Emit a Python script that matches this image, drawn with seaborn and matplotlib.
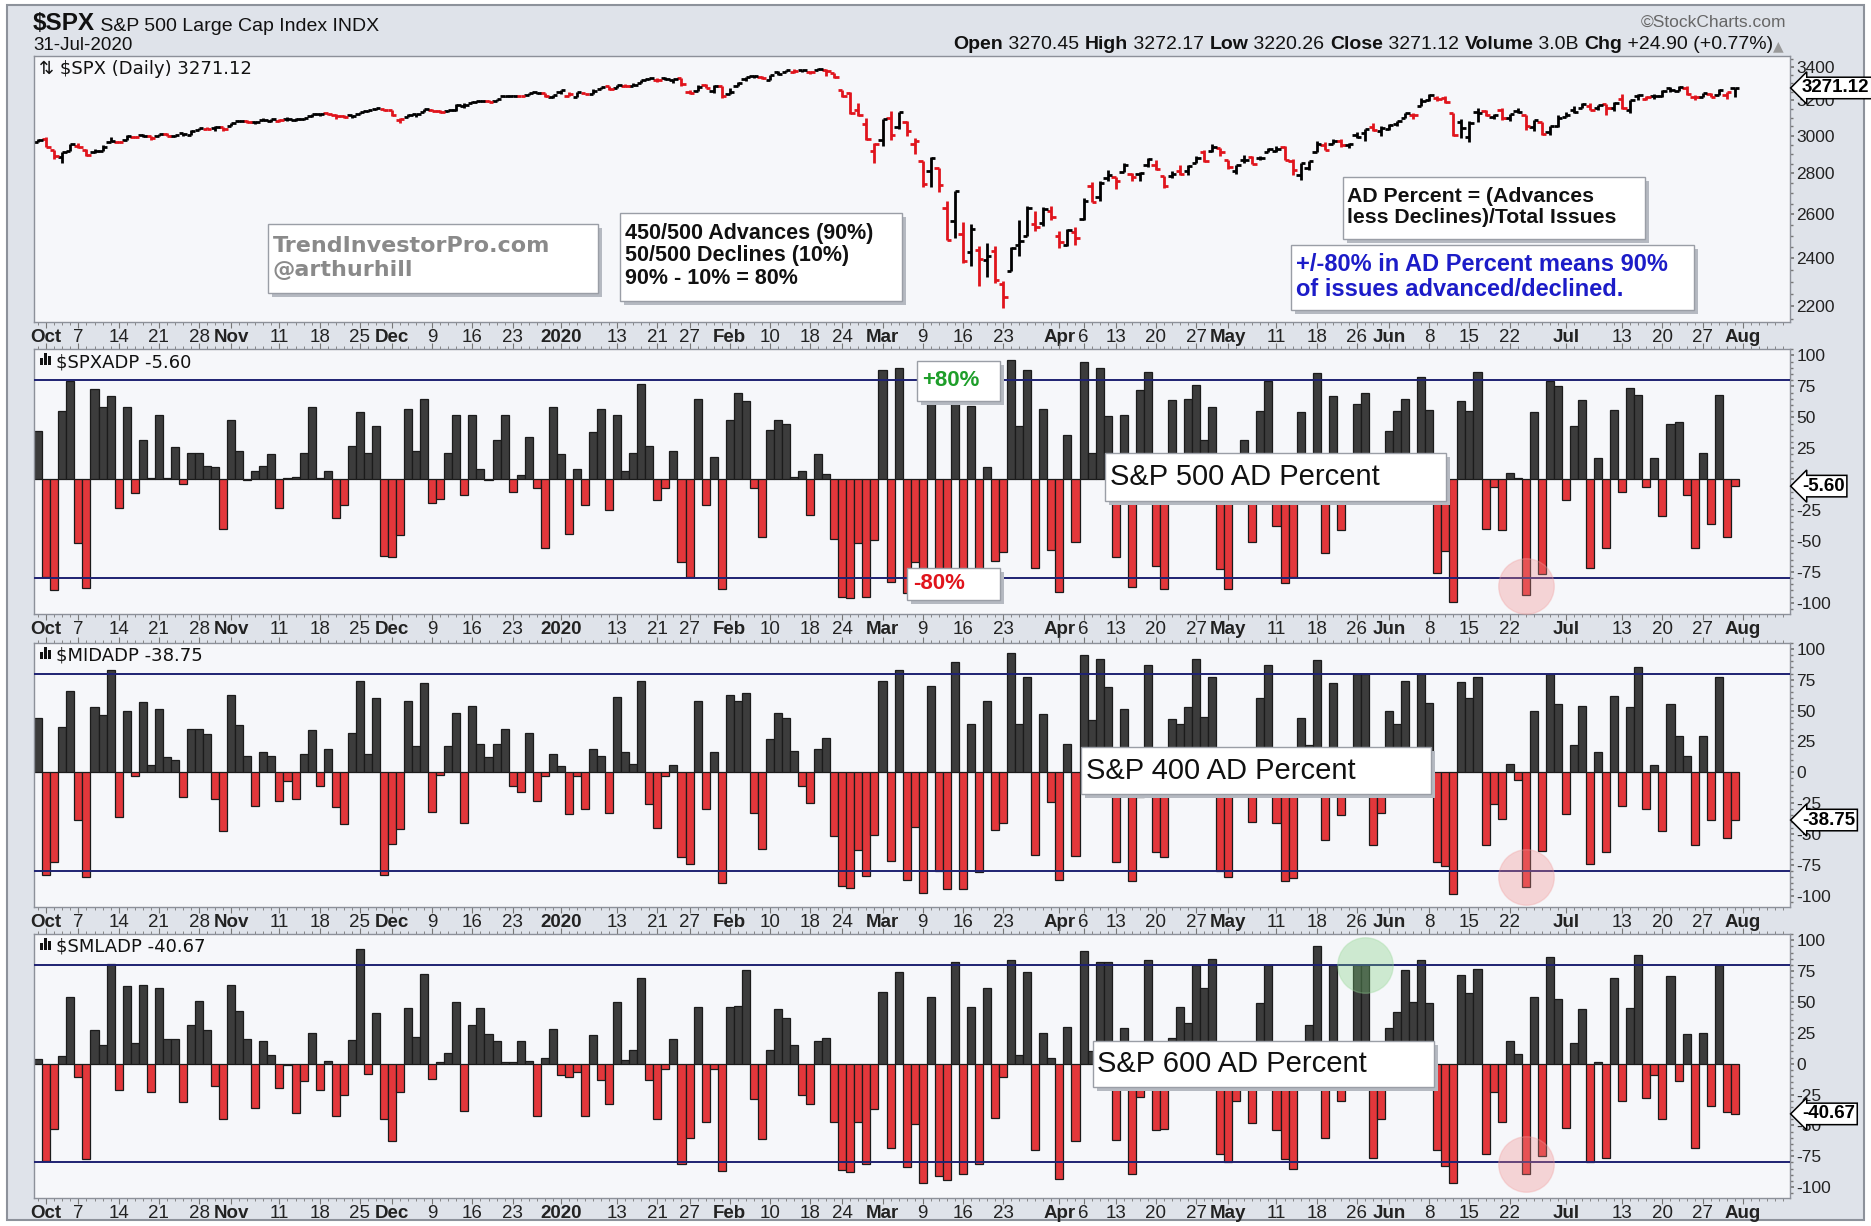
import matplotlib

matplotlib.use("Agg")
import matplotlib.pyplot as plt
import numpy as np
import pandas as pd
import seaborn as sns
from matplotlib import ticker
from matplotlib.patches import Rectangle

FIG_W, FIG_H = 1871, 1226

# trading days 30-Sep-2019 .. 31-Jul-2020
HOLIDAYS = ["2019-11-28", "2019-12-25", "2020-01-01", "2020-01-20",
            "2020-02-17", "2020-04-10", "2020-05-25", "2020-07-03"]
_bdays = pd.bdate_range("2019-09-30", "2020-07-31")
DATES = _bdays[~_bdays.isin(pd.to_datetime(HOLIDAYS))]

PRIOR_CLOSE = 2961.79
SPX_OPEN = [
    2967, 2983, 2924, 2885, 2918, 2945, 2920, 2912, 2919, 2964,
    2966, 2974, 2990, 3001, 2996, 2996, 3011, 2995, 3014, 3004,
    3032, 3036, 3039, 3046, 3050, 3079, 3080, 3076, 3087, 3082,
    3081, 3089, 3084, 3090, 3108, 3118, 3127, 3114, 3109, 3112,
    3118, 3135, 3146, 3148, 3143, 3087, 3104, 3120, 3134, 3141,
    3135, 3136, 3141, 3166, 3183, 3195, 3195, 3193, 3224, 3226,
    3225, 3227, 3247, 3240, 3215, 3245, 3226, 3218, 3241, 3238,
    3267, 3281, 3271, 3285, 3283, 3302, 3323, 3321, 3331, 3316,
    3334, 3248, 3256, 3290, 3256, 3282, 3235, 3280, 3324, 3344,
    3335, 3318, 3366, 3370, 3365, 3378, 3370, 3380, 3380, 3360,
    3258, 3239, 3140, 3063, 2917, 2974, 3096, 3046, 3076, 2954,
    2864, 2813, 2826, 2631, 2570, 2509, 2426, 2437, 2393, 2432,
    2291, 2344, 2458, 2501, 2556, 2559, 2615, 2498, 2459, 2515,
    2578, 2739, 2685, 2777, 2782, 2805, 2796, 2799, 2842, 2846,
    2785, 2788, 2810, 2813, 2855, 2910, 2918, 2931, 2869, 2815,
    2868, 2883, 2879, 2909, 2915, 2939, 2865, 2794, 2829, 2913,
    2949, 2954, 2969, 2949, 3004, 3016, 3046, 3025, 3038, 3064,
    3098, 3112, 3163, 3199, 3213, 3213, 3123, 3072, 2993, 3132,
    3137, 3101, 3140, 3095, 3138, 3114, 3047, 3074, 3018, 3050,
    3105, 3144, 3155, 3166, 3154, 3177, 3153, 3206, 3141, 3225,
    3209, 3224, 3224, 3268, 3255, 3271, 3219, 3219, 3234, 3227,
    3232, 3270.45,
]
SPX_HIGH = [
    2983, 2993, 2924, 2911, 2953, 2959, 2925, 2929, 2948, 2993,
    2972, 3003, 2997, 3008, 3000, 3007, 3015, 3005, 3016, 3028,
    3044, 3047, 3050, 3046, 3067, 3085, 3084, 3079, 3098, 3094,
    3089, 3103, 3098, 3098, 3120, 3124, 3128, 3118, 3112, 3112,
    3134, 3142, 3154, 3151, 3144, 3095, 3120, 3120, 3150, 3148,
    3143, 3143, 3176, 3182, 3197, 3198, 3199, 3206, 3226, 3227,
    3226, 3240, 3248, 3240, 3231, 3258, 3246, 3247, 3244, 3267,
    3276, 3283, 3288, 3294, 3299, 3317, 3330, 3330, 3337, 3326,
    3334, 3259, 3286, 3293, 3286, 3282, 3268, 3306, 3337, 3347,
    3342, 3352, 3375, 3381, 3385, 3381, 3375, 3393, 3389, 3360,
    3260, 3247, 3183, 3097, 2960, 3091, 3137, 3131, 3083, 2986,
    2864, 2883, 2826, 2661, 2711, 2563, 2554, 2454, 2467, 2453,
    2301, 2450, 2571, 2637, 2616, 2632, 2641, 2523, 2533, 2538,
    2677, 2757, 2761, 2819, 2782, 2852, 2802, 2807, 2879, 2869,
    2786, 2815, 2845, 2843, 2888, 2921, 2955, 2931, 2869, 2844,
    2898, 2891, 2892, 2933, 2945, 2945, 2875, 2852, 2865, 2968,
    2965, 2981, 2979, 2957, 3021, 3036, 3068, 3050, 3063, 3081,
    3124, 3128, 3211, 3233, 3223, 3223, 3123, 3089, 3079, 3153,
    3141, 3120, 3155, 3121, 3155, 3115, 3084, 3074, 3054, 3112,
    3129, 3165, 3183, 3184, 3171, 3180, 3186, 3236, 3200, 3238,
    3221, 3233, 3259, 3278, 3280, 3280, 3227, 3241, 3244, 3264,
    3250, 3272.17,
]
SPX_LOW = [
    2967, 2938, 2874, 2856, 2918, 2935, 2892, 2907, 2917, 2963,
    2962, 2974, 2986, 2992, 2977, 2995, 2995, 2991, 3000, 3001,
    3032, 3035, 3026, 3024, 3050, 3074, 3069, 3065, 3080, 3073,
    3077, 3079, 3079, 3084, 3104, 3109, 3113, 3091, 3097, 3099,
    3118, 3131, 3143, 3139, 3111, 3070, 3102, 3103, 3134, 3135,
    3126, 3133, 3138, 3156, 3183, 3191, 3191, 3193, 3217, 3222,
    3221, 3227, 3234, 3216, 3213, 3236, 3222, 3215, 3233, 3236,
    3264, 3260, 3268, 3278, 3281, 3302, 3318, 3307, 3321, 3302,
    3281, 3234, 3254, 3272, 3243, 3214, 3235, 3280, 3313, 3334,
    3323, 3317, 3352, 3369, 3361, 3369, 3356, 3379, 3341, 3328,
    3215, 3119, 3109, 2977, 2856, 2945, 2977, 3034, 3000, 2902,
    2734, 2734, 2707, 2479, 2492, 2381, 2367, 2281, 2320, 2296,
    2192, 2344, 2408, 2501, 2520, 2545, 2571, 2447, 2456, 2460,
    2575, 2658, 2663, 2762, 2721, 2805, 2762, 2764, 2831, 2820,
    2727, 2776, 2794, 2792, 2853, 2861, 2912, 2892, 2822, 2798,
    2853, 2847, 2870, 2909, 2914, 2869, 2794, 2767, 2816, 2913,
    2922, 2954, 2939, 2933, 2988, 2970, 3024, 2999, 3032, 3052,
    3098, 3090, 3163, 3196, 3194, 3181, 2999, 2984, 2965, 3076,
    3109, 3093, 3084, 3082, 3128, 3033, 3025, 3005, 3002, 3048,
    3101, 3124, 3155, 3143, 3142, 3116, 3136, 3150, 3127, 3201,
    3199, 3206, 3215, 3248, 3253, 3228, 3201, 3219, 3216, 3227,
    3205, 3220.26,
]
SPX_CLOSE = [
    2977, 2940, 2888, 2911, 2952, 2939, 2893, 2919, 2938, 2970,
    2966, 2996, 2990, 2998, 2986, 3007, 2996, 3005, 3010, 3023,
    3039, 3037, 3047, 3038, 3067, 3078, 3075, 3077, 3085, 3093,
    3087, 3092, 3094, 3097, 3120, 3122, 3120, 3108, 3104, 3110,
    3134, 3141, 3154, 3141, 3114, 3093, 3113, 3117, 3146, 3136,
    3133, 3142, 3169, 3169, 3191, 3193, 3191, 3205, 3221, 3224,
    3223, 3240, 3240, 3221, 3231, 3258, 3235, 3246, 3237, 3253,
    3275, 3265, 3288, 3283, 3289, 3317, 3330, 3321, 3322, 3326,
    3295, 3244, 3276, 3273, 3284, 3226, 3249, 3298, 3335, 3346,
    3328, 3352, 3358, 3379, 3374, 3380, 3370, 3386, 3373, 3338,
    3226, 3128, 3116, 2979, 2954, 3090, 3003, 3130, 3024, 2972,
    2747, 2882, 2741, 2481, 2711, 2386, 2529, 2398, 2409, 2305,
    2237, 2447, 2476, 2630, 2541, 2627, 2585, 2471, 2527, 2489,
    2664, 2659, 2750, 2790, 2762, 2846, 2783, 2800, 2875, 2823,
    2737, 2799, 2798, 2837, 2878, 2863, 2940, 2912, 2831, 2843,
    2868, 2848, 2881, 2930, 2930, 2870, 2820, 2853, 2864, 2954,
    2923, 2972, 2949, 2955, 2992, 3036, 3030, 3044, 3056, 3081,
    3123, 3112, 3194, 3232, 3207, 3190, 3002, 3041, 3067, 3125,
    3113, 3115, 3098, 3118, 3131, 3050, 3084, 3009, 3053, 3100,
    3116, 3130, 3180, 3145, 3170, 3152, 3185, 3155, 3198, 3227,
    3216, 3225, 3252, 3257, 3276, 3236, 3216, 3239, 3218, 3258,
    3246, 3271.12,
]

SPX_ADP = [
    39, -79, -90, 55, 79, -52, -88, 73, 58, 67,
    -23, 58, -11, 32, 1, 52, 1, 26, -4, 21,
    21, 11, 10, -40, 48, 23, -1, 7, 11, 20,
    -23, 1, 2, 21, 58, 1, 7, -31, -21, 27,
    54, 21, 43, -62, -63, -45, 57, 23, 65, -19,
    -16, 21, 52, -13, 52, 8, -1, 32, 52, -10,
    3, 34, -7, -56, 58, 20, -44, 8, -21, 38,
    57, -25, 52, 7, 21, 77, 27, -17, -7, 23,
    -67, -79, 65, -21, 18, -89, 48, 70, 63, -7,
    -47, 40, 48, 45, 2, 7, -29, 20, 4, -48,
    -95, -96, -52, -95, -49, 88, -83, 90, -92, -67,
    -95, 68, -88, -97, 63, -96, 59, -85, 10, -66,
    -59, 96, 43, 88, -72, 57, -57, -91, 36, -51,
    95, 21, 90, 51, -63, 52, -87, 72, 87, -70,
    -89, 64, 8, 65, 76, 32, 58, -73, -89, 5,
    32, -51, 55, 79, -38, -84, -79, 54, 12, 86,
    -60, 67, -41, 6, 61, 70, -12, 10, 39, 55,
    65, 12, 83, 56, -76, -58, -99, 63, 55, 87,
    -40, -6, -41, 5, 1, -94, 54, -77, 79, 75,
    -17, 43, 64, -72, 17, -56, 56, -10, 74, 68,
    -6, 17, -30, 45, 46, -13, -56, 21, -36, 68,
    -47, -5.60,
]
MID_ADP = [
    44, -83, -73, 37, 66, -39, -85, 53, 46, 83,
    -36, 50, -3, 57, 6, 51, 12, 10, -20, 35,
    35, 31, -22, -48, 63, 38, 13, -27, 16, 13,
    -23, -7, -22, 15, 34, -11, 19, -28, -42, 32,
    74, 15, 60, -83, -58, -46, 58, 21, 72, -32,
    -2, 21, 48, -41, 54, 23, 12, 23, 35, -11,
    -16, 32, -23, -3, 15, 5, -34, -3, -30, 19,
    13, -33, 61, 16, 7, 74, -26, -45, -3, 6,
    -69, -74, 58, -30, 16, -90, 63, 58, 64, -33,
    -62, 27, 48, 44, 17, -11, -25, 19, 28, -52,
    -92, -94, -63, -84, -51, 74, -72, 83, -87, -44,
    -98, 70, -80, -95, 89, -95, 39, -81, 58, -47,
    -41, 97, 39, 77, -67, 47, -24, -87, 23, -68,
    95, 42, 92, 69, -73, 51, -88, -20, 87, -65,
    -69, 43, 39, 53, 92, 45, 77, -80, -85, 10,
    8, -40, 60, 87, -41, -88, -86, 44, 22, 91,
    -55, 72, -35, 5, 80, 80, -59, -33, 50, 39,
    74, -10, 80, 56, -73, -76, -99, 73, 60, 77,
    -59, -26, -38, 7, -6, -93, 50, -64, 80, 55,
    -34, 22, 54, -74, 16, -65, 62, -27, 53, 85,
    -30, 6, -48, 55, 29, 13, -59, 29, -39, 77,
    -53, -38.75,
]
SML_ADP = [
    4, -79, -53, 6, 54, -11, -77, 27, 15, 81,
    -21, 63, 17, 64, -23, 61, 20, 20, -31, 31,
    51, 27, -18, -45, 64, 43, 20, -36, 18, 7,
    -20, -1, -40, -14, 25, -21, 2, -42, -25, 19,
    93, -8, 41, -45, -63, -23, 45, 22, 73, -12,
    1, 9, 50, -38, 31, 45, 24, 18, 1, 1,
    18, 2, -42, 5, 28, -9, -11, -7, -42, 23,
    -13, -33, 50, 3, 11, 69, -13, -45, -4, 20,
    -81, -60, 46, -47, -4, -87, 46, 47, 76, -29,
    -61, 11, 44, 37, 15, -25, -33, 18, 21, -47,
    -86, -88, -47, -81, -37, 58, -68, 74, -84, -49,
    -97, 54, -91, -94, 82, -89, 46, -81, 61, -44,
    -11, 84, 7, 74, -70, 25, 5, -93, 30, -63,
    91, 10, 82, 82, -62, 29, -89, -27, 84, -54,
    -53, 21, 46, 33, 80, 61, 85, -73, -80, -30,
    10, -48, 49, 80, -54, -77, -85, 12, 31, 95,
    -60, 80, -30, 5, 80, 80, -76, -45, 29, 42,
    76, 50, 84, 49, -70, -83, -97, 72, 57, 77,
    -73, -23, -47, 18, 8, -89, 54, -75, 86, 52,
    -52, 17, 44, -80, 1, -76, 69, -30, 45, 88,
    -28, -9, -45, 71, -14, 24, -68, 25, -34, 80,
    -39, -40.67,
]

TICK_DATES = [
    "2019-10-01", "2019-10-07", "2019-10-14", "2019-10-21", "2019-10-28",
    "2019-11-01", "2019-11-11", "2019-11-18", "2019-11-25", "2019-12-02",
    "2019-12-09", "2019-12-16", "2019-12-23", "2020-01-02", "2020-01-13",
    "2020-01-21", "2020-01-27", "2020-02-03", "2020-02-10", "2020-02-18",
    "2020-02-24", "2020-03-02", "2020-03-09", "2020-03-16", "2020-03-23",
    "2020-04-01", "2020-04-06", "2020-04-13", "2020-04-20", "2020-04-27",
    "2020-05-01", "2020-05-11", "2020-05-18", "2020-05-26", "2020-06-01",
    "2020-06-08", "2020-06-15", "2020-06-22", "2020-07-01", "2020-07-13",
    "2020-07-20", "2020-07-27", "2020-08-03",
]
TICK_TEXT = [
    "Oct", "7", "14", "21", "28", "Nov", "11", "18", "25", "Dec",
    "9", "16", "23", "2020", "13", "21", "27", "Feb", "10", "18",
    "24", "Mar", "9", "16", "23", "Apr", "6", "13", "20", "27",
    "May", "11", "18", "26", "Jun", "8", "15", "22", "Jul", "13",
    "20", "27", "Aug",
]
MONTH_TEXT = ["Oct", "Nov", "Dec", "2020", "Feb", "Mar", "Apr", "May", "Jun", "Jul", "Aug"]
PRICE_TICKS = [2200, 2400, 2600, 2800, 3000, 3200, 3400]
AD_TICKS = [-100, -75, -50, -25, 0, 25, 50, 75, 100]
BREADTH_LINES = [80, -80]
PANELS = [("$SPXADP", SPX_ADP, "S&P 500 AD Percent"),
          ("$MIDADP", MID_ADP, "S&P 400 AD Percent"),
          ("$SMLADP", SML_ADP, "S&P 600 AD Percent")]
CIRCLE_DATE = "2020-06-24"
GREEN_DATE = "2020-05-27"

BG = "#dfe3ea"
PLOT_BG = "#f6f7fa"
UP_BAR = "#3c3c3c"
DOWN_BAR = "#e3373b"
LINE_80 = "#1f2272"


def fx(px):
    return px / FIG_W


def fy(py):
    return 1 - py / FIG_H


def setup_axis(ax, tick_pos, top_ticks):
    ax.set_facecolor(PLOT_BG)
    for s in ax.spines.values():
        s.set_color("#8c9099")
        s.set_linewidth(1.0)
    ax.set_xlim(-0.5, 217.8)
    ax.xaxis.set_major_locator(ticker.FixedLocator(tick_pos))
    ax.xaxis.set_major_formatter(ticker.FixedFormatter(TICK_TEXT))
    ax.xaxis.set_minor_locator(ticker.MultipleLocator(1))
    ax.tick_params(axis="x", which="both", direction="out", colors="#777777",
                   labelcolor="#222222", top=top_ticks, bottom=True)
    ax.tick_params(axis="x", which="major", length=4, width=0.8, labelsize=13.5, pad=1)
    ax.tick_params(axis="x", which="minor", length=2.5, width=0.6)
    for lab in ax.get_xticklabels():
        if lab.get_text() in MONTH_TEXT:
            lab.set_fontweight("bold")
    ax.yaxis.tick_right()
    ax.tick_params(axis="y", which="both", direction="out", colors="#777777",
                   labelcolor="#222222", labelsize=12.5, left=False, right=True)
    ax.tick_params(axis="y", which="major", length=3, pad=2)
    ax.tick_params(axis="y", which="minor", length=2)
    ax.set_xlabel("")
    ax.set_ylabel("")


def y_labels(ax, ticks, tag_value, min_gap_px=9):
    """Right-hand tick labels; the one hidden under the value tag is left blank."""
    tag_px = ax.transData.transform((0, tag_value))[1]

    def fmt(v, _):
        gap = abs(ax.transData.transform((0, v))[1] - tag_px)
        return "" if gap < min_gap_px else f"{v:.0f}"

    ax.yaxis.set_major_locator(ticker.FixedLocator(ticks))
    ax.yaxis.set_major_formatter(ticker.FuncFormatter(fmt))


def legend_label(ax, text, bar_icon):
    if bar_icon:
        for k, h in enumerate([7, 12, 9]):
            ax.add_patch(Rectangle(((40 + 4 * k - 34.2) / 1755.3, 1 - 16 / 264), 2.6 / 1755.3, h / 264,
                                   transform=ax.transAxes, fc="#111111", ec="none", zorder=6))
        xpos = 0.0125
    else:
        xpos = 0.003
    ax.text(xpos, 0.985, text, transform=ax.transAxes, ha="left", va="top", fontsize=13,
            family="DejaVu Sans", color="#111111", zorder=6)


def boxed_note(fig, box, text_xy, text, shadow=True, **kw):
    x0, y0, x1, y1 = box
    if shadow:
        fig.add_artist(Rectangle((fx(x0 + 4), fy(y1 + 4)), fx(x1 - x0), (y1 - y0) / FIG_H,
                                 transform=fig.transFigure, fc="#b5b9c1", ec="none", zorder=5))
    fig.add_artist(Rectangle((fx(x0), fy(y1)), fx(x1 - x0), (y1 - y0) / FIG_H,
                             transform=fig.transFigure, fc="white", ec="#9a9ea6", lw=1.0, zorder=6))
    fig.text(fx(text_xy[0]), fy(text_xy[1]), text, ha="left", va="center", zorder=7, **kw)


def value_tag(ax, value, text):
    ax.annotate(text, xy=(1, value), xycoords=ax.get_yaxis_transform(),
                xytext=(9, 0), textcoords="offset points", ha="left", va="center",
                fontsize=13.5, fontweight="bold", color="black", annotation_clip=False,
                zorder=10,
                bbox=dict(boxstyle="larrow,pad=0.12", fc="white", ec="black", lw=1.1))


def main():
    sns.set_theme(style="ticks")
    plt.rcParams["font.family"] = ["Liberation Sans", "DejaVu Sans"]

    fig = plt.figure(figsize=(FIG_W / 100, FIG_H / 100), dpi=100)
    fig.patch.set_facecolor("white")
    fig.add_artist(Rectangle((fx(7), fy(1220)), fx(1857), 1215 / FIG_H, transform=fig.transFigure,
                             fc=BG, ec="#8d929b", lw=1.5, zorder=-10))

    rows = [(56, 322), (349.3, 614), (642.7, 906.7), (934, 1198.3)]
    left, right = fx(34.2), fx(1789.5)
    axes = [fig.add_axes([left, fy(b), right - left, (b - t) / FIG_H]) for t, b in rows]

    x = np.arange(len(DATES))
    tick_pos = DATES.searchsorted(pd.to_datetime(TICK_DATES))

    # ---- price panel (OHLC bars) ----
    ax = axes[0]
    close = np.asarray(SPX_CLOSE, dtype=float)
    prev = np.r_[PRIOR_CLOSE, close[:-1]]
    colors = np.where(close >= prev, "#000000", "#e0141c")
    ax.vlines(x, SPX_LOW, SPX_HIGH, colors=colors, lw=2.0)
    ax.hlines(SPX_OPEN, x - 0.55, x, colors=colors, lw=2.0)
    ax.hlines(SPX_CLOSE, x, x + 0.55, colors=colors, lw=2.0)
    ax.set_yscale("log")
    ax.set_ylim(2137, 3467)
    setup_axis(ax, tick_pos, top_ticks=False)
    y_labels(ax, PRICE_TICKS, close[-1])
    ax.yaxis.set_minor_locator(ticker.MultipleLocator(50))
    ax.yaxis.set_minor_formatter(ticker.NullFormatter())
    legend_label(ax, f"\u21c5 $SPX (Daily) {close[-1]:.2f}", bar_icon=False)
    value_tag(ax, close[-1], f"{close[-1]:.2f}")

    # ---- breadth panels ----
    for ax, (sym, vals, title) in zip(axes[1:], PANELS):
        df = pd.DataFrame({"x": x, "adp": vals})
        df["dir"] = np.where(df["adp"] >= 0, "up", "down")
        sns.barplot(data=df, x="x", y="adp", hue="dir", palette={"up": UP_BAR, "down": DOWN_BAR},
                    native_scale=True, dodge=False, width=1.0, saturation=1, errorbar=None,
                    edgecolor="#1b1b1b", linewidth=0.9, legend=False, ax=ax)
        for lvl in BREADTH_LINES:
            ax.axhline(lvl, color=LINE_80, lw=1.4, zorder=3)
        ax.set_ylim(-109, 105)
        setup_axis(ax, tick_pos, top_ticks=True)
        y_labels(ax, AD_TICKS, vals[-1])
        ax.yaxis.set_minor_locator(ticker.MultipleLocator(5))
        legend_label(ax, f"{sym} {vals[-1]:.2f}", bar_icon=True)
        value_tag(ax, vals[-1], f"{vals[-1]:.2f}")

        i = DATES.get_loc(pd.Timestamp(CIRCLE_DATE))
        ax.scatter([x[i]], [vals[i] + 8], s=1600, color="#f08a8a", alpha=0.33,
                   edgecolors="#f3a0a0", linewidths=1, zorder=4)
        if sym == "$SMLADP":
            j = DATES.get_loc(pd.Timestamp(GREEN_DATE))
            ax.scatter([x[j]], [vals[j]], s=1600, color="#7ccf7c", alpha=0.33,
                       edgecolors="#9bd99b", linewidths=1, zorder=4)

    # ---- header ----
    t = fig.text(fx(33), fy(30), "$SPX", ha="left", va="baseline", fontsize=17.5,
                 fontweight="bold", color="#111111")
    axes[0].annotate(" S&P 500 Large Cap Index INDX", xy=(1, 0), xycoords=t, ha="left", va="bottom",
                     fontsize=14, color="#111111", annotation_clip=False)
    fig.text(fx(33), fy(50), "31-Jul-2020", ha="left", va="baseline", fontsize=13.5, color="#111111")
    fig.text(fx(1786), fy(27), "\u00a9StockCharts.com", ha="right", va="baseline", fontsize=12.5,
             color="#666666")
    pieces = [("Open", "bold"), (" 3270.45 ", "normal"), ("High", "bold"), (" 3272.17 ", "normal"),
              ("Low", "bold"), (" 3220.26 ", "normal"), ("Close", "bold"), (" 3271.12 ", "normal"),
              ("Volume", "bold"), (" 3.0B ", "normal"), ("Chg", "bold"), (" +24.90 (+0.77%)", "normal")]
    prev_t = fig.text(fx(1784), fy(50), "\u25b2", ha="right", va="baseline", fontsize=10,
                      color="#999999", family="DejaVu Sans")
    for txt, weight in reversed(pieces):
        prev_t = axes[0].annotate(txt.rstrip() if txt.endswith(" ") else txt, xy=(0, 0),
                                  xycoords=prev_t, ha="right", va="bottom", fontsize=14,
                                  fontweight=weight, color="#111111", annotation_clip=False,
                                  xytext=(-4 if txt.endswith(" ") else 0, 0),
                                  textcoords="offset points")

    # ---- annotation boxes ----
    boxed_note(fig, (268, 224, 598, 293), (273, 258), "TrendInvestorPro.com\n@arthurhill",
               family="DejaVu Sans", fontsize=16, fontweight="bold", color="#8a8a8a", linespacing=1.25)
    boxed_note(fig, (620, 213, 902, 301), (625, 256),
               "450/500 Advances (90%)\n50/500 Declines (10%)\n90% - 10% = 80%",
               fontsize=15.5, fontweight="bold", color="#111111", linespacing=1.1)
    boxed_note(fig, (1343, 177, 1645, 239), (1347, 207), "AD Percent = (Advances\nless Declines)/Total Issues",
               fontsize=15.3, fontweight="bold", color="#111111", linespacing=1.1)
    boxed_note(fig, (1291, 245, 1694, 310), (1296, 277),
               "+/-80% in AD Percent means 90%\nof issues advanced/declined.",
               fontsize=17, fontweight="bold", color="#1c1cc8", linespacing=1.1)
    boxed_note(fig, (1105, 453, 1446, 501), (1110, 477), PANELS[0][2], fontsize=21, color="#111111")
    boxed_note(fig, (1081, 747, 1431, 794), (1086, 771), PANELS[1][2], fontsize=21, color="#111111")
    boxed_note(fig, (1093, 1041, 1434, 1087), (1097, 1064), PANELS[2][2], fontsize=21, color="#111111")
    boxed_note(fig, (917, 361, 1000, 401), (922, 381), f"+{BREADTH_LINES[0]}%",
               fontsize=16, fontweight="bold", color="#1e9e2a")
    boxed_note(fig, (907, 568, 1000, 600), (913, 584), f"{BREADTH_LINES[1]}%",
               fontsize=16, fontweight="bold", color="#e0141c")

    fig.savefig("out.png", dpi=100, facecolor=fig.get_facecolor())
    plt.close(fig)


if __name__ == "__main__":
    main()
